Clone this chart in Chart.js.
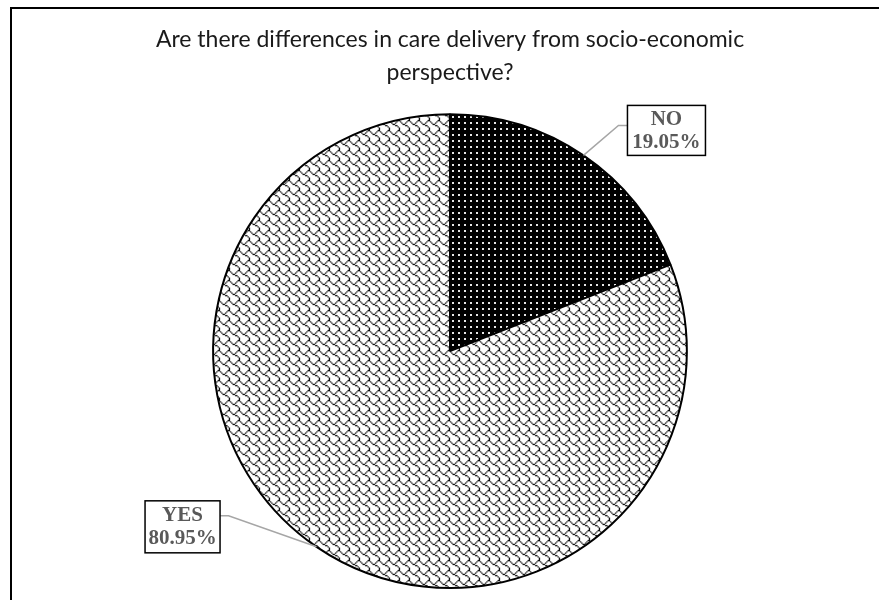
<!DOCTYPE html>
<html>
<head>
<meta charset="utf-8">
<script src="https://cdn.jsdelivr.net/npm/chart.js@4"></script>
<style>
  html, body { margin: 0; padding: 0; background: #fff; overflow: hidden; }
  #frame { position: absolute; left: 10px; top: 7px; width: 900px; height: 700px;
           border-left: 2px solid #000; border-top: 2px solid #000; }
  #wrap { position: absolute; left: 0; top: 0; width: 879px; height: 600px; }
</style>
</head>
<body>
<div id="frame"></div>
<div id="wrap"><canvas id="pieChart"></canvas></div>
<script>
// data
const answers = ['NO', 'YES'];
const shares = [19.05, 80.95];
const shareLabels = ['19.05%', '80.95%'];
const chartTitle = ['Are there differences in care delivery from socio-economic', 'perspective?'];

// fill patterns (8x8 bitmaps like the office hatch styles)
const shingleBits = [0x03, 0x84, 0x48, 0x30, 0x0c, 0x02, 0x01, 0x01];

function bitmapPattern(rows, fg, bg, scale) {
    const tile = document.createElement('canvas');
    tile.width = 8; tile.height = 8;
    const t = tile.getContext('2d');
    t.fillStyle = bg;
    t.fillRect(0, 0, 8, 8);
    t.fillStyle = fg;
    rows.forEach((bits, r) => {
        for (let c = 0; c < 8; c++) {
            if (bits & (0x80 >> c)) t.fillRect(c, r, 1, 1);
        }
    });
    const p = t.createPattern(tile, 'repeat');
    p.setTransform(new DOMMatrix().scale(scale));
    return p;
}

function dotPattern() {
    const tile = document.createElement('canvas');
    tile.width = 6; tile.height = 6;
    const t = tile.getContext('2d');
    t.fillStyle = '#000';
    t.fillRect(0, 0, 6, 6);
    t.fillStyle = '#e6e6e6';
    t.fillRect(2, 2, 2, 2);
    return t.createPattern(tile, 'repeat');
}

// callout boxes, offsets from the slice edge point
const callouts = [
    { box: [83, -25], elbow: [35, -30], size: [78, 50] },
    { box: [-134, -20], elbow: [-88, -31], size: [75, 52] }
];

const calloutPlugin = {
    id: 'callouts',
    afterDatasetsDraw(chart) {
        const ctx = chart.ctx;
        const meta = chart.getDatasetMeta(0);
        meta.data.forEach((arc, i) => {
            const p = arc.getProps(['x', 'y', 'outerRadius', 'startAngle', 'endAngle'], true);
            const mid = (p.startAngle + p.endAngle) / 2;
            const ex = p.x + Math.cos(mid) * p.outerRadius;
            const ey = p.y + Math.sin(mid) * p.outerRadius;
            const c = callouts[i];
            const bx = ex + c.box[0], by = ey + c.box[1];
            const [w, h] = c.size;
            const lx = ex + c.elbow[0], ly = ey + c.elbow[1];
            const sideX = c.box[0] > 0 ? bx - w / 2 : bx + w / 2;

            ctx.save();
            ctx.strokeStyle = '#a6a6a6';
            ctx.lineWidth = 1.5;
            ctx.beginPath();
            ctx.moveTo(sideX, ly);
            ctx.lineTo(lx, ly);
            ctx.lineTo(ex, ey);
            ctx.stroke();

            ctx.fillStyle = '#fff';
            ctx.fillRect(bx - w / 2, by - h / 2, w, h);
            ctx.strokeStyle = '#000';
            ctx.lineWidth = 1.5;
            ctx.strokeRect(bx - w / 2, by - h / 2, w, h);

            ctx.fillStyle = '#595959';
            ctx.font = 'bold 21px "Liberation Serif", "Times New Roman", serif';
            ctx.textAlign = 'center';
            ctx.textBaseline = 'middle';
            ctx.fillText(answers[i], bx, by - 11);
            ctx.fillText(shareLabels[i], bx, by + 12);
            ctx.restore();
        });
    }
};

const pieCanvas = document.getElementById('pieChart');
const pieChart = new Chart(pieCanvas, {
    type: 'pie',
    data: {
        labels: answers,
        datasets: [{
            data: shares,
            backgroundColor: [dotPattern(), bitmapPattern(shingleBits, '#000', '#fff', 1.25)],
            borderColor: '#000',
            borderWidth: 2
        }]
    },
    options: {
        responsive: true,
        maintainAspectRatio: false,
        animation: false,
        layout: { padding: { top: 0, left: 21, right: 0, bottom: 11 } },
        plugins: {
            legend: { display: false },
            tooltip: { enabled: false },
            title: {
                display: true,
                text: chartTitle,
                color: '#1a1a1a',
                font: { family: 'Lato, "Liberation Sans", sans-serif', size: 23, weight: 'normal', lineHeight: 1.44 },
                padding: { top: 23, bottom: 24 }
            }
        }
    },
    plugins: [calloutPlugin]
});
</script>
</body>
</html>
